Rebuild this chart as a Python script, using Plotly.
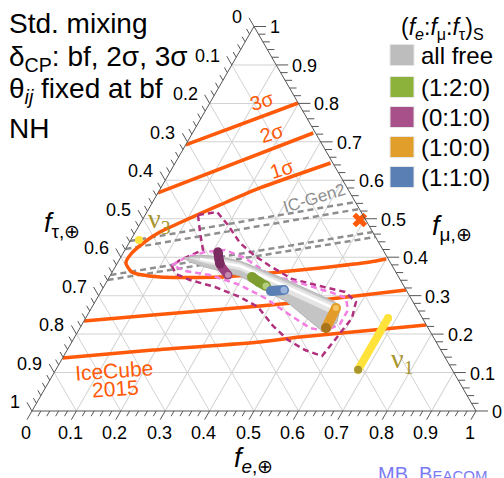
import numpy as np
import plotly.graph_objects as go

# ---------------- data: flavour fractions at Earth (f_e, f_mu); f_tau = 1 - f_e - f_mu ----------------
# IceCube 2015 contours
ic1_fe = [0.350, 0.2235, 0.1555, 0.0834, 0.0555, 0.0357, 0.0188, 0.019, 0.044, 0.114, 0.249, 0.335, 0.463,
          0.5675, 0.600]
ic1_fmu = [0.645, 0.580, 0.5358, 0.4863, 0.4655, 0.4421, 0.4083, 0.385, 0.3615, 0.3485, 0.3485, 0.3563, 0.372,
           0.3875, 0.3953]
ic2u_fe = [0.0, 0.272]
ic2u_fmu = [0.567, 0.723]
ic2l_fe = [0.0, 0.1477, 0.377, 0.5255, 0.6853]
ic2l_fmu = [0.234, 0.2497, 0.2731, 0.2913, 0.3147]
ic3u_fe = [0.0, 0.199]
ic3u_fmu = [0.692, 0.801]
ic3l_fe = [0.0, 0.1932, 0.4238, 0.5074, 0.776]
ic3l_fmu = [0.1378, 0.1586, 0.1795, 0.1925, 0.2237]

# IceCube-Gen2 projected contours (dashed)
gen2_fe = [[0.0, 0.4564], [0.0, 0.4746], [0.0, 0.5345], [0.0, 0.5475]]
gen2_fmu = [[0.442, 0.5436], [0.4213, 0.5254], [0.3537, 0.4655], [0.3407, 0.4525]]

# (0:1:0) allowed regions, dashed
mag_fe = [0.119, 0.158, 0.1995, 0.250, 0.3007, 0.3474, 0.4139, 0.486, 0.5502, 0.5879, 0.5997, 0.5917,
          0.5817, 0.5356, 0.4843, 0.4323, 0.3738, 0.3203, 0.2510, 0.1855, 0.1461, 0.1267, 0.1369, 0.1757,
          0.1456, 0.119]
mag_fmu = [0.5098, 0.5176, 0.4837, 0.4369, 0.4031, 0.3771, 0.3433, 0.3251, 0.3095, 0.2835, 0.2419, 0.1951,
           0.1430, 0.1586, 0.1847, 0.2211, 0.2705, 0.2965, 0.3225, 0.3407, 0.3563, 0.3771, 0.3927, 0.4187,
           0.4655, 0.5098]
pink_fe = [0.1254, 0.1456, 0.1828, 0.2253, 0.2807, 0.3591, 0.4371, 0.5244, 0.5602, 0.5803, 0.5805, 0.5558,
           0.5181, 0.4562, 0.3778, 0.3046, 0.2240, 0.1625, 0.1254]
pink_fmu = [0.3797, 0.3979, 0.4135, 0.4187, 0.3979, 0.3537, 0.3329, 0.3069, 0.2939, 0.2627, 0.2263, 0.2081,
            0.2159, 0.2497, 0.2939, 0.3277, 0.3537, 0.3641, 0.3797]

# "all free" region (tube)
tube_fe = [0.1433, 0.1755, 0.2231, 0.2734, 0.4039, 0.5406, 0.5610, 0.5711, 0.5626, 0.5491, 0.4325, 0.2929,
           0.2023, 0.1621, 0.1433]
tube_fmu = [0.3979, 0.4057, 0.4005, 0.3901, 0.3407, 0.2835, 0.2653, 0.2315, 0.2081, 0.2081, 0.2835, 0.3511,
            0.3745, 0.3875, 0.3979]
tubel_fe = [0.1569, 0.2257, 0.2760, 0.4078, 0.5410, 0.5565, 0.5517, 0.4208, 0.2851, 0.1971, 0.1569]
tubel_fmu = [0.3979, 0.3953, 0.3849, 0.3329, 0.2783, 0.2653, 0.2523, 0.3069, 0.3667, 0.3849, 0.3979]
tubew_fe = [0.1807, 0.2799, 0.4130, 0.5439]
tubew_fmu = [0.3953, 0.3771, 0.3225, 0.2679]

# specific source compositions
s010_fe, s010_fmu = [0.2121, 0.2323, 0.2646], [0.4135, 0.3823, 0.3537]
s120_fe, s120_fmu = [0.3212, 0.3435, 0.3645], [0.3485, 0.3355, 0.3251]
s110_fe, s110_fmu = [0.3822, 0.4102], [0.3121, 0.3147]
s100_fe, s100_fmu = [0.5507, 0.5542], [0.2679, 0.2159]

# mass eigenstates
nu1_fe, nu1_fmu = [0.681, 0.681], [0.242, 0.107]
nu3_fe, nu3_fmu = [0.0186], [0.4447]
x_fe, x_fmu = [0.490], [0.4967]

legend_labels = ["all free", "(1:2:0)", "(0:1:0)", "(1:0:0)", "(1:1:0)"]
legend_colors = ["#bdbdbd", "#8db23c", "#a8508a", "#e29e2a", "#5a7fb5"]
tick_vals = [round(0.1 * i, 1) for i in range(11)]

# ---------------- figure ----------------
W_PX, H_PX = 504, 478
X0, WP = 32 / W_PX, 444 / W_PX
Y0, HP = (H_PX - 411) / H_PX, 444 * np.sqrt(3) / 2 / H_PX


def P(fe, fmu):
    return X0 + WP * (fe + fmu / 2), Y0 + HP * fmu


def tern(fe, fmu, **kw):
    fe = np.asarray(fe, float)
    fmu = np.asarray(fmu, float)
    return go.Scatterternary(a=fmu, b=1 - fe - fmu, c=fe, hoverinfo="skip", showlegend=False,
                             cliponaxis=False, **kw)


ORANGE = "#ff5a0a"
fig = go.Figure()

# IC-Gen2 dashed
for fe, fm in zip(gen2_fe, gen2_fmu):
    fig.add_trace(tern(fe, fm, mode="lines", line=dict(color="#8e8e8e", width=2.5, dash="6px,4px")))

# IceCube 2015 contours
for fe, fm in [(ic1_fe, ic1_fmu), (ic2u_fe, ic2u_fmu), (ic2l_fe, ic2l_fmu), (ic3u_fe, ic3u_fmu),
               (ic3l_fe, ic3l_fmu)]:
    fig.add_trace(tern(fe, fm, mode="lines", line=dict(color=ORANGE, width=3.5, shape="spline",
                                                        smoothing=0.6)))

# dashed regions
fig.add_trace(tern(mag_fe, mag_fmu, mode="lines", line=dict(color="#b0307e", width=2.5, dash="6px,4px")))
fig.add_trace(tern(pink_fe, pink_fmu, mode="lines", line=dict(color="#f27ee2", width=2.5, dash="6px,4px")))

# tube (all free)
fig.add_trace(tern(tube_fe, tube_fmu, mode="lines", fill="toself", fillcolor="#c4c4c4",
                   line=dict(color="#b4b4b4", width=1)))
fig.add_trace(tern(tubel_fe, tubel_fmu, mode="lines", fill="toself", fillcolor="#e4e4e4",
                   line=dict(color="#e4e4e4", width=0.5)))
fig.add_trace(tern(tubew_fe, tubew_fmu, mode="lines", line=dict(color="#ffffff", width=2.5)))


def capsule(fe, fm, color, w):
    fig.add_trace(tern(fe, fm, mode="lines+markers", line=dict(color=color, width=w, shape="spline"),
                       marker=dict(color=color, size=w, line=dict(width=0))))


capsule(s010_fe, s010_fmu, "#9a3f7c", 9)
capsule(s010_fe[:2], s010_fmu[:2], "#7a2b60", 9)
capsule(s010_fe[2:], s010_fmu[2:], "#c48ab0", 6)
capsule(s120_fe, s120_fmu, "#7e9f30", 10)
capsule(s120_fe[2:], s120_fmu[2:], "#b4d07e", 7)
capsule(s110_fe, s110_fmu, "#5a7fb5", 10)
capsule(s110_fe[1:], s110_fmu[1:], "#9ab4dc", 7)
capsule(s100_fe, s100_fmu, "#e39c2a", 10)
capsule(s100_fe[1:], s100_fmu[1:], "#a8741c", 10)
capsule(s100_fe[:1], s100_fmu[:1], "#f4c462", 6)

capsule(nu1_fe, nu1_fmu, "#ffe23a", 8)
capsule(nu1_fe[1:], nu1_fmu[1:], "#a8952e", 8)
fig.add_trace(tern(nu3_fe, nu3_fmu, mode="markers", marker=dict(color="#ffe23a", size=8, line=dict(width=0))))
fig.add_trace(tern(x_fe, x_fmu, mode="markers", marker=dict(color=ORANGE, size=13, symbol="x",
                                                             line=dict(width=0))))

axis_common = dict(showticklabels=False, ticks="", showgrid=True, gridcolor="#d2d2d2", gridwidth=1,
                   tickmode="linear", tick0=0, dtick=0.1, linecolor="#555555", linewidth=1, title="")
fig.update_layout(
    width=W_PX, height=H_PX, margin=dict(l=0, r=0, t=0, b=0),
    paper_bgcolor="white", showlegend=False,
    font=dict(family="Liberation Sans, Arial, sans-serif", color="black"),
    ternary=dict(domain=dict(x=[X0, X0 + WP], y=[Y0, Y0 + HP]), sum=1, bgcolor="white",
                 aaxis=axis_common, baxis=axis_common, caxis=axis_common),
)

# tick marks
segs = []
for i in range(51):
    v = i * 0.02
    major = (i % 5 == 0)
    Lb = (10 if major else 6) / 444
    Lr = (12 if major else 7) / 444
    Ll = (10 if major else 6) / 444
    for (p0, p1) in [(P(v, 0), P(v, -Lb)),
                     (P(1 - v, v), P(1 - v + Lr, v)),
                     (P(0, 1 - v), P(-Ll, 1 - v + Ll))]:
        segs.append(f"M{p0[0]:.5f},{p0[1]:.5f}L{p1[0]:.5f},{p1[1]:.5f}")
fig.add_shape(type="path", xref="paper", yref="paper", path="".join(segs),
              line=dict(color="#555555", width=1))

ann = []
TF = dict(size=18, color="black")


def add_ann(**kw):
    kw.update(xref="paper", yref="paper", showarrow=False)
    ann.append(kw)


for v in tick_vals:
    lab = "0" if v == 0 else ("1" if v == 1 else f"{v:.1f}")
    x, y = P(v, 0)
    add_ann(x=x, y=y, xshift=-6, yshift=-22, text=lab, xanchor="center", yanchor="middle", font=TF)
    x, y = P(1 - v, v)
    add_ann(x=x, y=y, xshift=14, yshift=-1, text=lab, xanchor="left", yanchor="middle", font=TF)
    x, y = P(0, 1 - v)
    add_ann(x=x, y=y, xshift=-10, yshift=9, text=lab, xanchor="right", yanchor="middle", font=TF)


def px(x, y):
    return x / W_PX, 1 - y / H_PX


def A(x, y, text, size, color="black", xanchor="center", angle=0, family=None):
    X, Y = px(x, y)
    f = dict(size=size, color=color)
    if family:
        f["family"] = family
    add_ann(x=X, y=Y, text=text, xanchor=xanchor, yanchor="middle", textangle=angle, font=f)


A(7, 23, "Std. mixing", 28, xanchor="left")
A(7, 58, "δ<sub>CP</sub>: bf, 2σ, 3σ", 28, xanchor="left")
A(7, 90, "θ<sub><i>ij</i></sub> fixed at bf", 28, xanchor="left")
A(7, 128, "NH", 28, xanchor="left")

A(62, 225, "<i>f</i><sub>τ,⊕</sub>", 27)
A(452, 228, "<i>f</i><sub>μ,⊕</sub>", 27)
A(253, 460, "<i>f</i><sub><i>e</i>,⊕</sub>", 27)

A(399, 28, "(<i>f<sub>e</sub></i>:<i>f</i><sub>μ</sub>:<i>f</i><sub>τ</sub>)<sub>S</sub>", 23, xanchor="left")
legend_y = [55, 87, 117, 147, 177]
for lab, col, yc in zip(legend_labels, legend_colors, legend_y):
    x0, y0 = px(390, yc - 10.5)
    x1, y1 = px(414, yc + 10.5)
    fig.add_shape(type="rect", xref="paper", yref="paper", x0=x0, x1=x1, y0=y1, y1=y0,
                  fillcolor=col, line=dict(color="#e6e6e6", width=1))
    A(419, yc, lab, 24, xanchor="left")

A(262, 101, "3σ", 20, color=ORANGE, angle=-18)
A(272, 133, "2σ", 20, color=ORANGE, angle=-18)
A(282, 169, "1σ", 20, color=ORANGE, angle=-18)
A(114, 370, "IceCube", 21, color=ORANGE, angle=-4)
A(115, 388, "2015", 21, color=ORANGE, angle=-4)
A(314, 198, "IC-Gen2", 17, color="#8e8e8e", angle=-17)
A(402, 360, "ν<sub>1</sub>", 28, color="#a8952e", family="Liberation Serif, serif")
A(159, 221, "ν<sub>3</sub>", 28, color="#a8952e", family="Liberation Serif, serif")
A(432, 474, "MB, B<span style='font-size:15px'>EACOM</span>", 20, color="#7a7af5")

fig.update_layout(annotations=ann)
fig.write_html("out.html")
